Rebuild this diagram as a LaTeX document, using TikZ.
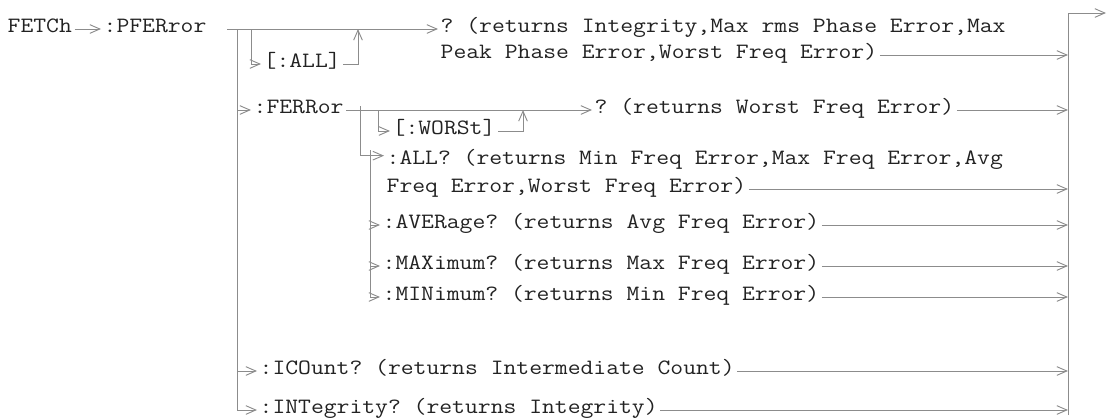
\documentclass[tikz,border=0pt]{standalone}
\usepackage{fontspec}
\setmonofont[FakeStretch=1.14]{Latin Modern Mono}
\usepackage{tikz}
\usetikzlibrary{arrows.meta}
\definecolor{WireGrey}{HTML}{8C8C8C}
\definecolor{InkDark}{HTML}{222222}
\tikzset{
  cmd/.style={anchor=west, inner sep=0pt, outer sep=2pt, text height=0.78em, text depth=0.2em, text=InkDark, font=\ttfamily\fontsize{16.4}{20.25}\selectfont},
  wire/.style={draw=WireGrey, line width=0.75pt},
  arr/.style={wire, -{Straight Barb[length=7.5pt, width=6.5pt, line width=0.7pt]}}
}
\begin{document}
\begin{tikzpicture}[x=0.75pt, y=-0.75pt]
\useasboundingbox (0,0) rectangle (1107,419);
\node[cmd] (fetch) at (5,29) {FETCh};
\node[cmd] (pferr) at (101,29) {:PFERror};
\node[cmd] (pfq) at (438,29) {? (returns Integrity,Max rms Phase Error,Max};
\node[cmd] (pfq2) at (438,55) {Peak Phase Error,Worst Freq Error)};
\node[cmd] (allopt) at (261,64) {[:ALL]};
\node[cmd] (ferr) at (251,110) {:FERRor};
\node[cmd] (wq) at (592,110) {? (returns Worst Freq Error)};
\node[cmd] (worst) at (390,131) {[:WORSt]};
\node[cmd] (allq) at (384,161) {:ALL? (returns Min Freq Error,Max Freq Error,Avg};
\node[cmd] (allq2) at (384,189) {Freq Error,Worst Freq Error)};
\node[cmd] (ave) at (380,225) {:AVERage? (returns Avg Freq Error)};
\node[cmd] (max) at (380,266) {:MAXimum? (returns Max Freq Error)};
\node[cmd] (min) at (380,297) {:MINimum? (returns Min Freq Error)};
\node[cmd] (ico) at (257,371) {:ICOunt? (returns Intermediate Count)};
\node[cmd] (int) at (257,410) {:INTegrity? (returns Integrity)};
\coordinate (busA) at (237,29);
\coordinate (busB) at (251,29);
\coordinate (joinA) at (358,29);
\coordinate (busC) at (378,110);
\coordinate (joinB) at (523,110);
\coordinate (busD) at (360,106);
\coordinate (busE) at (370,150);
\coordinate (rtop) at (1068,13);
\coordinate (rbot) at (1068,415);
\coordinate (exit) at (1106,13);
\draw[arr] (fetch) -- (pferr);
\draw[arr] ([xshift=13.5pt]pferr.east) -- (pfq);
\draw[arr] (busA) |- (ferr);
\draw[arr] (busA) |- (ico);
\draw[arr] (busA) |- (int);
\draw[arr] (busB) |- (allopt);
\draw[arr] (allopt) -| (joinA);
\draw[arr] (ferr) -- (wq);
\draw[arr] (busC) |- (worst);
\draw[arr] (worst) -| (joinB);
\draw[arr] (busD) |- ([yshift=4pt]allq.west);
\draw[arr] (busE) |- (ave);
\draw[arr] (busE) |- (max);
\draw[arr] (busE) |- (min);
\foreach \n in {pfq2,wq,allq2,ave,max,min,ico,int}{
  \draw[arr] (\n) -- (\n -| rtop);
}
\draw[arr] (rbot) |- (exit);
\end{tikzpicture}
\end{document}
